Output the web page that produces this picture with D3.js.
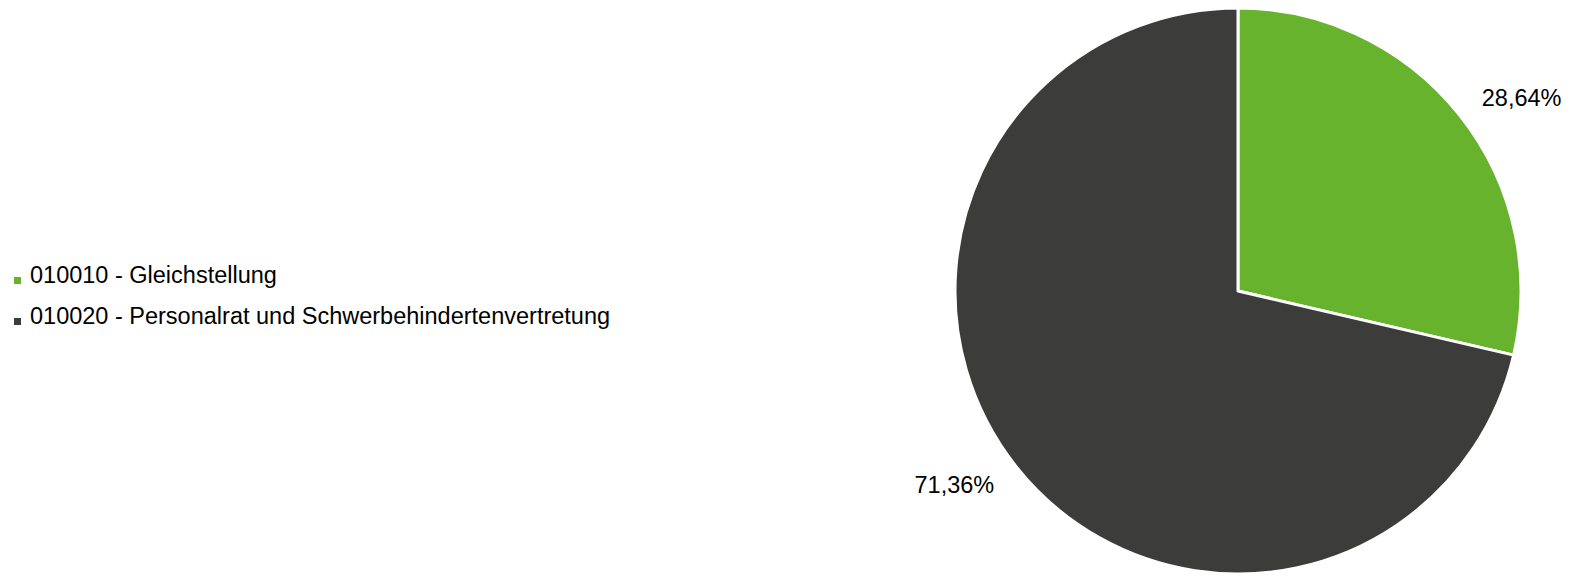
<!DOCTYPE html>
<html>
<head>
<meta charset="utf-8">
<script src="https://cdn.jsdelivr.net/npm/d3@7"></script>
<style>
  html, body { margin: 0; padding: 0; overflow: hidden; background: #fff; }
  svg { display: block; font-family: "Liberation Sans", Arial, sans-serif; }
</style>
</head>
<body>
<div id="chart"></div>
<script>
// data
var categories = ["010010 - Gleichstellung", "010020 - Personalrat und Schwerbehindertenvertretung"];
var values = [28.64, 71.36];
var labels = ["28,64%", "71,36%"];
var colors = ["#67b32e", "#3c3c3a"];

var width = 1589, height = 582;
var cx = 1238, cy = 291, radius = 283;

var svg = d3.select("#chart")
  .append("svg")
  .attr("width", width)
  .attr("height", height);

var pie = d3.pie().sort(null).value(function(d) { return d; });
var arcs = pie(values);

var arc = d3.arc().innerRadius(0).outerRadius(radius);

var g = svg.append("g").attr("transform", "translate(" + cx + "," + cy + ")");

g.selectAll("path")
  .data(arcs)
  .enter()
  .append("path")
  .attr("d", arc)
  .attr("fill", function(d, i) { return colors[i]; })
  .attr("stroke", "#fff")
  .attr("stroke-width", 3)
  .attr("stroke-linejoin", "round");

// percent labels just outside the slices
var labelR = radius * 1.10;
g.selectAll("text.lbl")
  .data(arcs)
  .enter()
  .append("text")
  .attr("class", "lbl")
  .attr("x", function(d) { var a = (d.startAngle + d.endAngle) / 2; return Math.sin(a) * labelR; })
  .attr("y", function(d) { var a = (d.startAngle + d.endAngle) / 2; return -Math.cos(a) * labelR; })
  .attr("dy", "0.35em")
  .attr("text-anchor", function(d) { var a = (d.startAngle + d.endAngle) / 2; return a < Math.PI ? "start" : "end"; })
  .style("font-size", "23.5px")
  .attr("fill", "#000")
  .text(function(d, i) { return labels[i]; });

// legend
var legend = svg.append("g").attr("transform", "translate(14,283)");
var row = legend.selectAll("g")
  .data(categories)
  .enter()
  .append("g")
  .attr("transform", function(d, i) { return "translate(0," + (i * 41) + ")"; });

row.append("rect")
  .attr("x", 0)
  .attr("y", -6)
  .attr("width", 7)
  .attr("height", 7)
  .attr("fill", function(d, i) { return colors[i]; });

row.append("text")
  .attr("x", 16)
  .attr("y", 0)
  .style("font-size", "23.5px")
  .attr("fill", "#000")
  .text(function(d) { return d; });
</script>
</body>
</html>
